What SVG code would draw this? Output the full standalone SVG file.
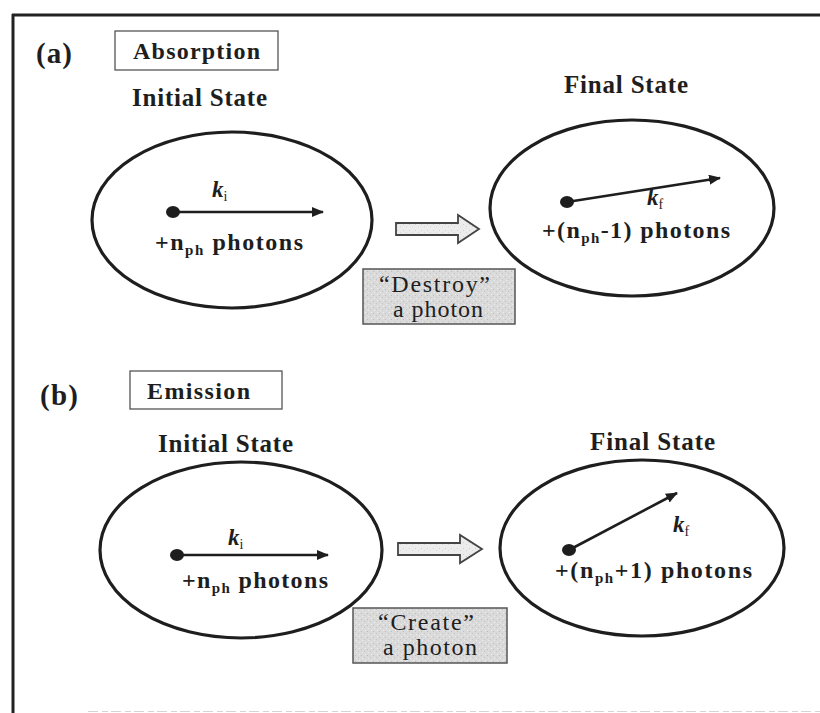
<svg xmlns="http://www.w3.org/2000/svg" width="820" height="713" viewBox="0 0 820 713">
<style>
text{font-family:"Liberation Serif","Times New Roman",serif;fill:#1e1e1e}
.lbl{font-size:29px;font-weight:bold}
.title{font-size:24px;font-weight:bold}
.state{font-size:25px;font-weight:bold}
.ph{font-size:24px;font-weight:bold}
.sub{font-size:15px}
.k{font-size:23px;font-weight:bold;font-style:italic}
.ks{font-size:14px;font-style:normal;font-weight:normal}
.act{font-size:24px}
.ell{fill:none;stroke:#1e1e1e;stroke-width:3.2}
.tbox{fill:#fff;stroke:#555;stroke-width:1.3}
.gbox{fill:url(#stip);stroke:#555;stroke-width:1.5}
.vec{stroke:#1e1e1e;stroke-width:2.6;fill:none}
.hol{fill:url(#stip2);stroke:#444;stroke-width:1.8;stroke-linejoin:miter}
</style>
<defs>
<pattern id="stip" width="6" height="6" patternUnits="userSpaceOnUse">
<rect width="6" height="6" fill="#dadada"/>
<rect x="1" y="1" width="1" height="1" fill="#bdbdbd"/>
<rect x="4" y="3" width="1" height="1" fill="#c4c4c4"/>
<rect x="2" y="4" width="1" height="1" fill="#ededed"/>
<rect x="5" y="0" width="1" height="1" fill="#eeeeee"/>
</pattern>
<pattern id="stip2" width="6" height="6" patternUnits="userSpaceOnUse">
<rect width="6" height="6" fill="#ececec"/>
<rect x="1" y="2" width="1" height="1" fill="#cfcfcf"/>
<rect x="4" y="4" width="1" height="1" fill="#d6d6d6"/>
</pattern>
<marker id="ah" viewBox="0 0 12 10" refX="11" refY="5" markerWidth="12" markerHeight="10" markerUnits="userSpaceOnUse" orient="auto">
<path d="M0,0 L12,5 L0,10 Z" fill="#1e1e1e"/>
</marker>
</defs>

<g id="frame">
<line x1="12" y1="15" x2="820" y2="15" stroke="#222" stroke-width="3"/>
<line x1="13" y1="14" x2="13" y2="713" stroke="#222" stroke-width="3"/>
<line x1="88" y1="711.5" x2="820" y2="711.5" stroke="#d4d4d4" stroke-width="1.2" stroke-dasharray="10 4 6 3"/>
</g>

<g id="panel-a-label">
<text class="lbl" x="36" y="63" textLength="36">(a)</text>
</g>
<g id="absorption-title">
<rect class="tbox" x="115" y="31" width="163" height="39"/>
<text class="title" x="133" y="59" textLength="127">Absorption</text>
</g>
<text class="state" x="132" y="106" textLength="135">Initial State</text>
<text class="state" x="564" y="93" textLength="124">Final State</text>

<g id="a-initial">
<ellipse class="ell" cx="232" cy="220" rx="140" ry="88"/>
<ellipse cx="173" cy="212" rx="7" ry="6" fill="#1e1e1e"/>
<text class="k" x="212" y="197">k<tspan class="ks" dy="4">i</tspan></text>
<text class="ph" x="155" y="250" textLength="148">+n<tspan class="sub" dy="5">ph</tspan><tspan dy="-5"> photons</tspan></text>
</g>

<g id="a-final">
<ellipse class="ell" cx="632" cy="208" rx="142" ry="88"/>
<ellipse cx="567" cy="202" rx="7" ry="6" fill="#1e1e1e"/>
<text class="k" x="647" y="205">k<tspan class="ks" dy="4">f</tspan></text>
<text class="ph" x="542" y="238" textLength="188">+(n<tspan class="sub" dy="5">ph</tspan><tspan dy="-5">-1) photons</tspan></text>
</g>

<g id="destroy">
<rect class="gbox" x="363" y="269" width="152" height="55"/>
<text class="act" x="379" y="292" textLength="111">“Destroy”</text>
<text class="act" x="393" y="317" textLength="90">a photon</text>
</g>

<g id="panel-b-label">
<text class="lbl" x="40" y="405" textLength="38">(b)</text>
</g>
<g id="emission-title">
<rect class="tbox" x="130" y="371" width="152" height="38"/>
<text class="title" x="147" y="399" textLength="103">Emission</text>
</g>
<text class="state" x="158" y="452" textLength="135">Initial State</text>
<text class="state" x="590" y="450" textLength="125">Final State</text>

<g id="b-initial">
<ellipse class="ell" cx="241" cy="550" rx="141" ry="88"/>
<ellipse cx="177" cy="555" rx="7" ry="6" fill="#1e1e1e"/>
<text class="k" x="228" y="545">k<tspan class="ks" dy="4">i</tspan></text>
<text class="ph" x="182" y="588" textLength="146">+n<tspan class="sub" dy="5">ph</tspan><tspan dy="-5"> photons</tspan></text>
</g>

<g id="b-final">
<ellipse class="ell" cx="642" cy="548" rx="142" ry="88"/>
<ellipse cx="569" cy="550" rx="7" ry="6" fill="#1e1e1e"/>
<text class="k" x="673" y="532">k<tspan class="ks" dy="4">f</tspan></text>
<text class="ph" x="555" y="578" textLength="197">+(n<tspan class="sub" dy="5">ph</tspan><tspan dy="-5">+1) photons</tspan></text>
</g>

<g id="create">
<rect class="gbox" x="353" y="608" width="154" height="55"/>
<text class="act" x="378" y="630" textLength="96">“Create”</text>
<text class="act" x="383" y="655" textLength="94">a photon</text>
</g>

<g id="connectors">
<line class="vec" x1="173" y1="212" x2="323" y2="212" marker-end="url(#ah)"/>
<line class="vec" x1="567" y1="202" x2="720" y2="178" marker-end="url(#ah)"/>
<line class="vec" x1="177" y1="555" x2="328" y2="555" marker-end="url(#ah)"/>
<line class="vec" x1="569" y1="550" x2="677" y2="493" marker-end="url(#ah)"/>
<path class="hol" d="M396,223 L458,223 L458,215 L479,229 L458,243 L458,235 L396,235 Z"/>
<path class="hol" d="M398,543 L460,543 L460,535 L482,549 L460,563 L460,555 L398,555 Z"/>
</g>
</svg>
